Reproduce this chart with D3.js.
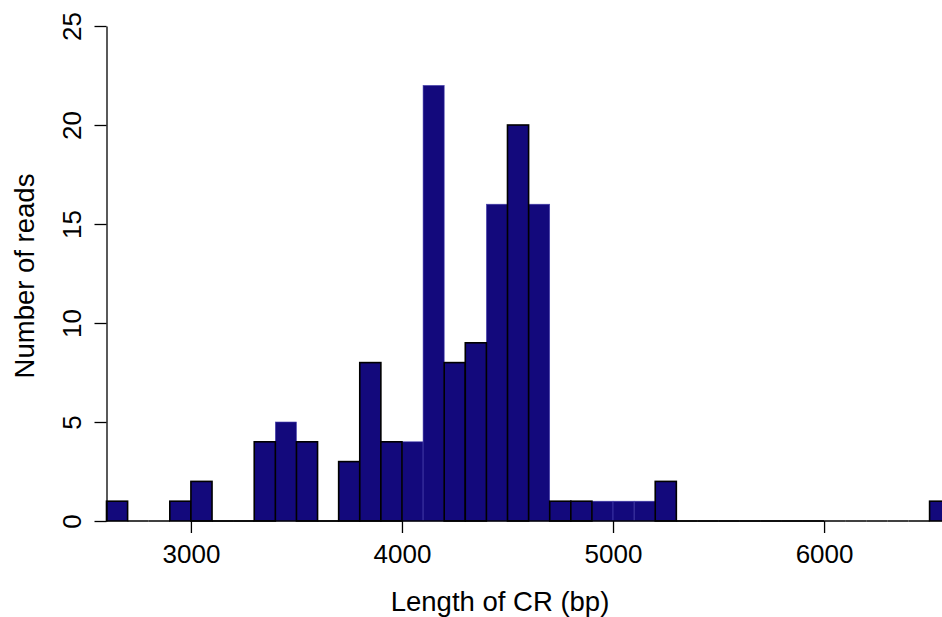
<!DOCTYPE html>
<html>
<head>
<meta charset="utf-8">
<script src="https://cdn.jsdelivr.net/npm/d3@7"></script>
<style>
  html, body { margin: 0; padding: 0; background: #fff; overflow: hidden; }
  svg { display: block; }
  text { font-family: "Liberation Sans", Arial, Helvetica, sans-serif; fill: #000; }
</style>
</head>
<body>
<svg id="chart" width="942" height="617"></svg>
<script>
// ---- data ----
const binStarts = d3.range(2600, 6600, 100); // left edges of 100-bp bins
const counts = [1, 0, 0, 1, 2, 0, 0, 4, 5, 4, 0, 3, 8, 4, 4, 22, 8, 9, 16, 20, 16,
                1, 1, 1, 1, 1, 2, 0, 0, 0, 0, 0, 0, 0, 0, 0, 0, 0, 0, 1];
const binWidth = 100;
const xTicks = [3000, 4000, 5000, 6000];
const yTicks = [0, 5, 10, 15, 20, 25];
const xLabel = "Length of CR (bp)";
const yLabel = "Number of reads";

// rendering detail: bins whose outline is not visible in the reference
const unoutlined = new Set([3400, 4000, 4100, 4400, 4600, 4900, 5000, 5100]);

const bins = binStarts.map((s, i) => ({ x0: s, x1: s + binWidth, n: counts[i] }));

const svg = d3.select("#chart");
const x = d3.scaleLinear().domain([2600, 6600]).range([106.5, 950.7]);
const y = d3.scaleLinear().domain([0, 25]).range([521, 26]);
const fill = "#13097c";

// unoutlined bars first
svg.append("g").selectAll("rect")
  .data(bins.filter(d => d.n > 0 && unoutlined.has(d.x0)))
  .join("rect")
  .attr("x", d => x(d.x0)).attr("width", d => x(d.x1) - x(d.x0))
  .attr("y", d => y(d.n)).attr("height", d => y(0) - y(d.n))
  .attr("fill", fill).attr("stroke", "#4a44b0").attr("stroke-width", 0.6);

// zero-count bins drawn as baseline segments
svg.append("g").selectAll("line")
  .data(bins.filter(d => d.n === 0))
  .join("line")
  .attr("x1", d => x(d.x0)).attr("x2", d => x(d.x1))
  .attr("y1", y(0)).attr("y2", y(0))
  .attr("stroke", "#000").attr("stroke-width", 1.5);

// outlined bars
svg.append("g").selectAll("rect")
  .data(bins.filter(d => d.n > 0 && !unoutlined.has(d.x0)))
  .join("rect")
  .attr("x", d => x(d.x0)).attr("width", d => x(d.x1) - x(d.x0))
  .attr("y", d => y(d.n)).attr("height", d => y(0) - y(d.n))
  .attr("fill", fill).attr("stroke", "#000").attr("stroke-width", 1.6);

// y axis
const yAxis = svg.append("g")
  .attr("transform", `translate(${x(2600)},0)`)
  .call(d3.axisLeft(y).tickValues(yTicks).tickSize(12).tickSizeOuter(0).tickFormat(d3.format("d")));
yAxis.select(".domain").attr("stroke", "#000").attr("stroke-width", 1.3);
yAxis.selectAll(".tick line").attr("stroke", "#000").attr("stroke-width", 1.3);
yAxis.selectAll(".tick text")
  .attr("font-size", 26)
  .attr("text-anchor", "middle")
  .attr("dy", null)
  .attr("x", null)
  .attr("transform", "translate(-26,0) rotate(-90)")
  .attr("y", 0);

// x axis (line from first to last tick, R style)
const xAxis = svg.append("g")
  .attr("transform", `translate(0,${y(0)})`)
  .call(d3.axisBottom(x).tickValues(xTicks).tickSize(12).tickSizeOuter(0).tickFormat(d3.format("d")));
xAxis.select(".domain").remove();
xAxis.append("line")
  .attr("x1", x(xTicks[0])).attr("x2", x(xTicks[xTicks.length - 1]))
  .attr("stroke", "#000").attr("stroke-width", 1.3);
xAxis.selectAll(".tick line").attr("stroke", "#000").attr("stroke-width", 1.3);
xAxis.selectAll(".tick text")
  .attr("font-size", 26)
  .attr("dy", null)
  .attr("y", 42);

// axis titles
svg.append("text")
  .attr("x", 500).attr("y", 611)
  .attr("text-anchor", "middle").attr("font-size", 27.5)
  .text(xLabel);
svg.append("text")
  .attr("transform", "translate(34,276) rotate(-90)")
  .attr("text-anchor", "middle").attr("font-size", 27.5)
  .text(yLabel);
</script>
</body>
</html>
